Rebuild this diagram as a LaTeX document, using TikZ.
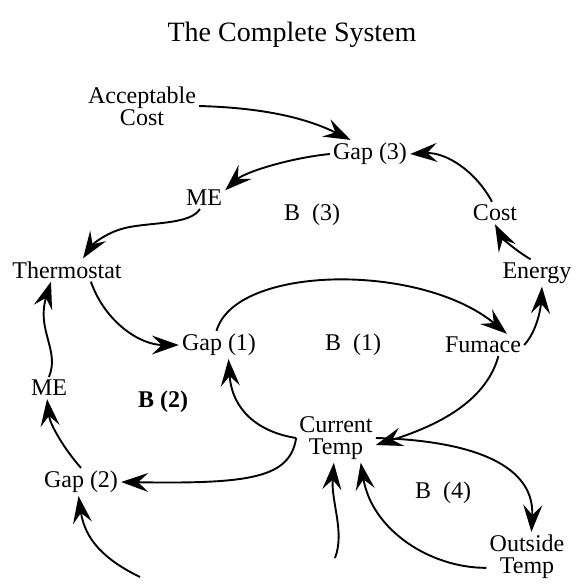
\documentclass[tikz,border=0pt]{standalone}
\usepackage{fontspec}
\setmainfont{Liberation Serif}
\usetikzlibrary{arrows.meta}
\tikzset{
  lbl/.style={inner sep=3pt, align=center, font=\fontsize{24}{22}\selectfont},
  link/.style={line width=1.9pt, -{Stealth[length=27pt,width=19pt,inset=10pt]}},
}
\begin{document}
\begin{tikzpicture}[x=1pt,y=-1pt]
  \useasboundingbox (0,0) rectangle (582,584);
  \node[font=\fontsize{28}{30}\selectfont] (title) at (292,35) {The Complete System};
  \node[lbl] (acc) at (142,106) {Acceptable\\Cost};
  \node[lbl] (gap3) at (370,154) {Gap (3)};
  \node[lbl] (meA) at (204,198) {ME};
  \node[lbl] (bthree) at (312,215) {B\enspace(3)};
  \node[lbl] (cost) at (495,213) {Cost};
  \node[lbl] (thermo) at (67,270) {Thermostat};
  \node[lbl] (energy) at (537,273) {Energy};
  \node[lbl] (gap1) at (219,345) {Gap (1)};
  \node[lbl] (bone) at (353,345) {B\enspace(1)};
  \node[lbl] (furn) at (483,345) {Fumace};
  \node[lbl] (meB) at (49,388) {ME};
  \node[lbl,font=\fontsize{24}{22}\selectfont\bfseries] (btwo) at (163,402) {B (2)};
  \node[lbl] (cur) at (336,438) {Current\\Temp};
  \node[lbl] (gap2) at (81,482) {Gap (2)};
  \node[lbl] (bfour) at (443,493) {B\enspace(4)};
  \node[lbl] (outs) at (527,557) {Outside\\Temp};
  \coordinate (inA) at (335,558);
  \coordinate (inB) at (140,577);

  \draw[link] (acc.east) .. controls (270,108) and (310,120) .. (gap3.144);
  \draw[link] (gap3.west) .. controls (290,158) and (245,172) .. (meA.20);
  \draw[link] (meA.250) .. controls (190,225) and (150,222) .. (125,228)
    .. controls (105,233) and (92,245) .. (thermo.36);
  \draw[link] (thermo.-26) .. controls (105,322) and (140,345) .. (gap1.west);
  \draw[link] (gap1.100) .. controls (235,265) and (420,262) .. (furn.25);
  \draw[link] (furn.east) .. controls (538,330) and (541,305) .. (energy.-70);
  \draw[link] (energy.115) .. controls (515,250) and (502,238) .. (cost.south);
  \draw[link] (cost.105) .. controls (475,170) and (445,152) .. (gap3.east);
  \draw[link] (furn.-36) .. controls (485,405) and (430,428) .. (cur.-10);
  \draw[link] (cur.east) .. controls (460,440) and (535,460) .. (outs.80);
  \draw[link] (outs.-165) .. controls (430,568) and (372,530) .. (cur.-45);
  \draw[link] (inA) .. controls (345,532) and (331,502) .. (cur.-95);
  \draw[link] (cur.west) .. controls (258,432) and (232,410) .. (gap1.-56);
  \draw[link] (cur.west) .. controls (290,478) and (250,484) .. (gap2.east);
  \draw[link] (gap2.north) .. controls (65,450) and (50,425) .. (meB.-100);
  \draw[link] (meB.north) .. controls (60,350) and (36,330) .. (thermo.-144);
  \draw[link] (inB) .. controls (105,560) and (85,540) .. (gap2.-100);
\end{tikzpicture}
\end{document}
